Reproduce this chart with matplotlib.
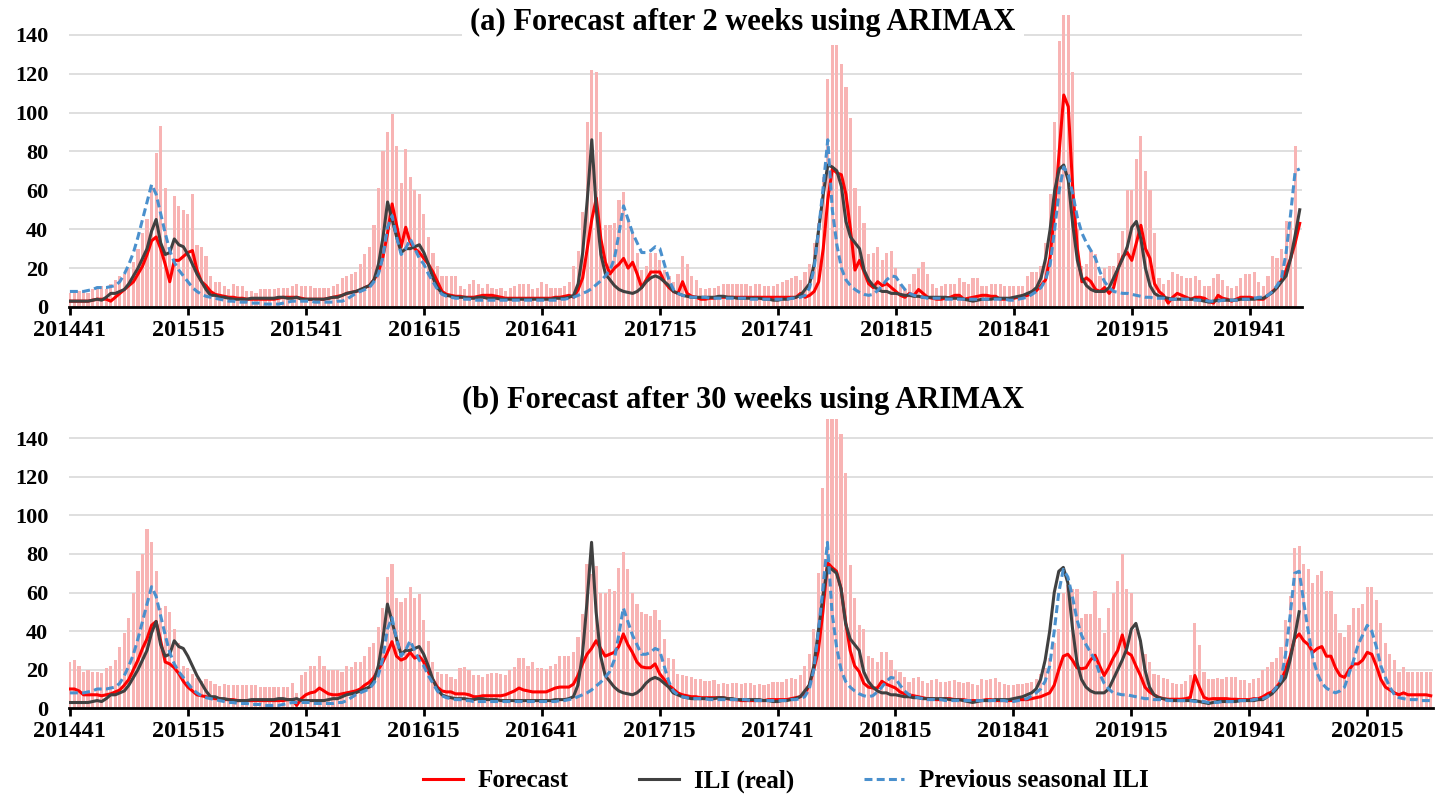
import matplotlib.pyplot as plt
import numpy as np

plt.rcParams['font.family'] = ['Liberation Serif', 'DejaVu Serif']
plt.rcParams['font.weight'] = 'bold'

# week labels every 26 weeks, starting at 201441
week_labels = ['201441', '201515', '201541', '201615', '201641', '201715',
               '201741', '201815', '201841', '201915', '201941', '202015']

# ILI (real), weekly from 201441 to 201952
ili_real = [
    3, 3, 3, 3, 3, 3.5, 4, 3.5, 5, 7, 7, 8, 9, 12, 16, 20, 25, 30, 39, 45,
    33, 27, 28, 35, 32, 31, 27, 22, 17, 13, 9, 6, 6, 5, 5, 4.5, 4, 4, 4, 4,
    4.5, 4.5, 4.5, 4.5, 4.5, 4.5, 5, 5, 4.5, 4.5, 5, 4, 4,
    4, 4, 4, 4, 4.5, 5, 5, 6, 7, 7.5, 8, 9, 10, 11, 14, 22, 36, 54, 45, 36,
    28, 30, 30, 31, 32, 28, 22, 15, 10, 7, 6, 5.5, 5, 5, 5, 4.5, 4.5, 5, 5, 4.5,
    4.5, 4.5, 4, 4, 4, 4, 4, 4, 4, 4, 4, 4, 4, 4, 4.5, 4.5, 4.5, 5,
    6, 12, 28, 55, 86, 50, 27, 17, 14, 11, 9, 8, 7.5, 7, 8, 10, 13, 15, 16, 15,
    13, 11, 8, 7, 6, 5.5, 5, 5, 5, 5, 5, 5, 5.5, 5.5, 5, 5, 4.5, 4.5, 4.5, 4.5,
    4.5, 4.5, 4, 4, 3.5, 3.5, 4, 4, 4.5, 5, 6, 9, 12, 22, 40, 58, 73,
    72, 70, 62, 44, 36, 33, 30, 19, 14, 11, 9, 8, 8, 7, 7, 6.5, 6, 6, 5.5, 5.5,
    5, 5, 5, 5, 5, 5, 4.5, 4.5, 4.5, 4, 3.5, 3, 3.5, 4, 4, 4, 4.5, 4.5, 4.5, 4.5,
    5, 5.5, 6, 7, 8, 10, 15, 25, 40, 60, 71, 73,
    65, 42, 24, 15, 11, 9, 8, 8, 8, 10, 15, 20, 25, 31, 41, 44, 35, 20, 11, 7,
    5.5, 5, 4.5, 4, 4, 4, 4, 4, 4, 3.5, 3, 2.5, 3, 3.5, 3.5, 3.5, 3.5, 3.5, 4, 4,
    4, 4, 4.5, 4.5, 6, 7.5, 10, 13, 16, 25, 37, 50,
]

# previous seasonal ILI, weekly from 201441 to 202029
prev_season = [
    8, 8, 8, 8, 8.5, 9, 10, 10, 10, 10.5, 11, 13, 17, 22, 28, 36, 45, 54, 63, 58,
    48, 38, 29, 23, 19, 16, 13, 10, 8, 6.5, 5.5, 5, 4.5, 4, 3.5, 3, 3, 2.5, 2.5, 2.5,
    2, 2, 2, 1.5, 1.5, 1.5, 1.5, 2, 2.5, 3, 3, 3, 3,
    3, 2.5, 2.5, 2.5, 2.5, 2.5, 3, 3, 4, 5.5, 7, 8, 9, 10, 13, 17, 26, 41, 47, 36,
    27, 30, 35, 30, 25, 22, 17, 13, 9, 6.5, 5.5, 5, 4.5, 4.5, 4, 4, 3.5, 3.5, 3.5, 3.5,
    3.5, 3.5, 3.5, 3.5, 3.5, 3.5, 3.5, 3.5, 3.5, 3.5, 3.5, 3.5, 3.5, 3.5, 3.5, 4, 4, 4.5,
    5, 6, 7, 8, 9.5, 11.5, 13.5, 16, 19, 25, 38, 52, 45, 38, 33, 28, 28, 29, 31, 30,
    22, 14, 9, 7, 6, 5.5, 5, 5, 5, 5, 4.5, 4.5, 4.5, 4.5, 4.5, 4.5, 4.5, 4.5, 4.5, 4,
    4, 4, 4, 4, 4, 4, 4, 4, 4.5, 4.5, 5, 6, 10, 20, 40, 62, 86,
    50, 32, 20, 14, 11, 9, 7.5, 6.5, 6, 6.5, 8.5, 11, 14, 16, 15.5, 12, 9, 7, 6, 5.5,
    5, 4.5, 4.5, 4.5, 4.5, 4, 4, 4, 4, 4, 4, 4, 4, 4, 4, 4, 4, 4, 4, 3.5,
    3.5, 4, 4.5, 5, 6.5, 8, 10, 14, 22, 40, 60, 72,
    68, 58, 46, 38, 33, 29, 25, 18, 13, 10, 8, 7.5, 7, 7, 6.5, 6, 5.5, 5, 5, 4.5,
    4.5, 4.5, 4, 4, 4, 4, 4, 4, 3.5, 3.5, 3.5, 3, 3, 3, 3.5, 3.5, 3.5, 3.5, 4, 4,
    4, 4.5, 5, 5, 6, 8, 11, 15, 28, 48, 70, 71, 55, 40, 26, 18, 13, 10.5, 9, 8,
    9, 11, 18, 25, 33, 38, 43, 40, 32, 22, 16, 11, 7, 5.5, 5, 4.5, 4.5, 4.5, 4, 4,
    4,
]

# (a) forecast after 2 weeks, 201441 to 201952
forecast_2w = [
    3, 3, 3, 3, 3, 3.5, 4, 4, 4, 3, 5, 7, 9, 11, 13, 17, 21, 27, 34, 36,
    30, 22, 13, 24, 24, 26, 28, 29, 19, 13, 11, 8, 6.5, 6, 5.5, 5, 5, 4.5, 4.5, 4,
    4, 4, 4, 4, 4, 4, 4.5, 5, 5, 5, 5, 4.5, 4,
    4, 4, 4, 4, 4.5, 5, 5.5, 6, 7, 7.5, 8, 8.5, 10, 11, 14, 18, 26, 38, 53, 42,
    31, 41, 33, 30, 28, 25, 22, 18, 13, 8, 6.5, 6, 5.5, 5.5, 5, 5, 5, 5.5, 6, 6,
    6, 5.5, 5, 4.5, 4.5, 4.5, 4.5, 4.5, 4.5, 4.5, 4.5, 4.5, 4.5, 4.5, 5, 5, 5.5, 6,
    5, 9, 15, 30, 45, 56, 35, 23, 17, 20, 22, 25, 20, 23, 17, 10, 14, 18, 18, 18,
    13, 10, 8, 7, 13, 7, 5.5, 5, 4, 4, 4.5, 4.5, 5, 5, 5, 5, 5, 5, 5, 5,
    5, 5, 5, 5, 5, 5, 5, 5, 5, 5, 7, 5, 6, 8, 13, 30, 55,
    71, 69, 68, 58, 40, 19, 24, 18, 12, 10, 13, 11, 12, 10, 8, 6, 5, 7, 6, 9,
    7, 5, 4.5, 4, 4, 4.5, 5, 6, 6, 4, 4.5, 5, 5.5, 6, 6, 5.5, 5.5, 4, 4, 4,
    4.5, 5, 5.5, 6, 7, 8.5, 11, 14, 26, 50, 80, 109,
    103, 60, 30, 13, 15, 13, 9, 8, 10, 7, 10, 20, 26, 28, 24, 33, 42, 30, 25, 12,
    8, 6, 2, 5, 7, 6, 5, 4, 5, 5, 4.5, 3, 2, 6, 4.5, 4, 3, 4, 5, 5,
    5, 4.5, 4, 4, 6, 8, 10, 14, 19, 25, 33, 43,
]

# (a) upper bars, 201441 to 201951
upper_2w = [
    7, 7, 8, 8, 7, 9, 10, 11, 9, 12, 14, 16, 17, 20, 23, 30, 38, 45, 62, 79,
    93, 61, 30, 57, 52, 50, 48, 58, 32, 31, 26, 16, 13, 13, 11, 9, 12, 11, 11, 8,
    8, 7, 9, 9, 9, 9, 10, 10, 10, 11, 12, 11, 11,
    11, 10, 10, 10, 10, 11, 12, 15, 16, 17, 18, 22, 27, 31, 42, 61, 80, 90, 99, 83,
    64, 81, 67, 60, 58, 48, 36, 28, 21, 16, 16, 16, 16, 11, 9, 12, 14, 12, 10, 12,
    10, 9, 10, 8, 10, 11, 12, 12, 12, 9, 10, 13, 12, 10, 10, 10, 11, 13,
    21, 29, 49, 95, 122, 121, 90, 42, 42, 43, 55, 59, 45, 38, 28, 19, 21, 28, 28, 24,
    19, 16, 13, 17, 26, 22, 16, 14, 10, 9.5, 10, 10, 11, 12, 12, 12, 12, 12, 12, 11,
    12, 12, 11, 11, 11, 12, 13, 14, 15, 16, 14, 18, 22, 33, 43, 67, 117,
    136, 136, 125, 113, 97, 61, 52, 43, 27, 28, 31, 24, 28, 29, 20, 12, 9, 12, 17, 20,
    23, 17, 12, 10, 11, 12, 12, 12, 15, 13, 12, 15, 15, 11, 11, 12, 12, 12, 11, 11,
    11, 11, 11, 16, 18, 18, 21, 33, 58, 95, 137, 150,
    150, 121, 40, 21, 22, 29, 27, 16, 20, 21, 21, 28, 39, 60, 60, 76, 88, 70, 60, 38,
    15, 12, 14, 18, 17, 16, 15, 15, 16, 14, 11, 11, 15, 17, 14, 11, 10, 11, 15, 17,
    17, 18, 13, 11, 16, 26, 25, 30, 44, 44, 83,
]

# (b) forecast after 30 weeks, 201441 to 202029
forecast_30w = [
    10, 10, 9, 7, 7, 7, 7, 6.5, 7, 7.5, 8.5, 9.5, 12, 15, 20, 25, 31, 36, 43, 45,
    35, 24, 23, 21, 18, 14, 11, 9, 7, 6.5, 6, 5.5, 5, 5, 4.5, 4.5, 4.5, 4, 4, 4,
    4, 4, 4, 4, 4, 4, 4, 4, 4.5, 4.5, 1.5, 5, 7,
    8, 8.5, 10.5, 9, 7.5, 7, 7, 7.5, 8, 8.5, 9, 10, 12, 13.5, 16, 20, 24, 29, 34.5, 27,
    25, 26, 29, 26, 27, 24, 19, 15, 11, 9, 8.5, 8.5, 7.5, 7.5, 7.5, 7, 6, 6, 6.5, 6.5,
    6.5, 6.5, 6.5, 7, 8, 9, 10.5, 9.5, 9, 8.5, 8.5, 8.5, 8.5, 9.5, 10.5, 11, 11, 11,
    12.5, 17, 23, 28, 31, 35, 31, 27, 28, 29, 32, 38.5, 33, 29, 24, 21.5, 21, 21, 23, 18,
    15, 12, 10, 8, 7, 6.5, 6, 6, 5.5, 5.5, 5.5, 5.5, 5.5, 5.5, 5, 4.5, 4.5, 4, 4, 4,
    4, 4, 4, 4.5, 4.5, 4.5, 4.5, 4.5, 5, 5.5, 6, 7.5, 12, 20, 30, 50, 75.5,
    73, 71, 62, 45, 30, 22, 19, 13, 11, 10.5, 10.5, 14, 12.5, 11.5, 10.5, 8.5, 7.5, 7, 6.5, 6,
    5.5, 5, 5, 4.5, 4.5, 5, 5, 4.5, 4.5, 4.5, 4, 4, 4, 4, 4.5, 4.5, 4, 4, 4, 4,
    4, 4.5, 4.5, 4.5, 5, 5.5, 6, 7, 8, 12, 20, 27,
    28, 25, 21, 20.5, 21, 25, 27.5, 22, 17, 21, 26, 30, 38, 29, 27.5, 22, 17, 11, 8.5, 7,
    5.7, 5, 4.7, 4.7, 4.7, 4.7, 5, 5.7, 17, 11, 5.7, 4.7, 5, 5, 5, 5, 4.7, 4.7, 4.5, 4.5,
    4.5, 5, 5, 6, 7.5, 8.5, 11, 14, 20, 27, 36, 38.5, 35, 33, 29, 31, 32, 27, 27, 21,
    17, 16, 20, 23, 23, 25, 29, 28, 22, 15, 11, 9.5, 8, 7, 8, 7, 7, 7, 7, 7,
    6.5,
]

# (b) upper bars, 201441 to 202029
upper_30w = [
    24, 25, 22, 19, 20, 19, 19, 18.5, 21, 22, 25, 32, 39, 47, 60, 71, 80, 93, 86, 71,
    52, 53, 50, 41, 34, 22, 21, 18, 15.5, 14, 15, 14, 12.6, 11.6, 12.4, 12, 12, 12, 12, 12,
    12, 12, 11, 11, 11, 11, 11, 11, 11, 13, 8, 17, 19,
    22, 22, 27, 22, 20, 20, 20, 19, 22, 21.5, 24, 24, 27, 32, 34, 42, 52, 68, 75, 57,
    55, 57, 63, 57, 59, 46, 35, 24, 19, 18, 18, 16, 15, 21, 21.6, 20, 17, 17, 16, 18,
    18.5, 18.5, 17.6, 17, 20, 21.6, 26, 26, 22, 24, 20.7, 20.7, 20.4, 22, 23, 27, 27, 27,
    29, 37, 49, 75, 69.6, 73.7, 60, 60, 62, 61, 72.5, 81, 72, 60, 54, 50, 49, 48, 51, 45.8,
    36, 26, 25.4, 18, 17, 16.8, 16, 15.4, 15.4, 14.3, 14.3, 14.5, 12.6, 13.3, 12.6, 13.3, 13.3, 12.6, 13, 13,
    12, 12.6, 12, 12.6, 13.8, 13.8, 13.8, 15, 15.5, 15, 17, 22, 28, 41, 70, 114, 150,
    150, 150, 142, 122, 74, 57, 43, 41, 27, 26, 24, 29, 29, 25, 20, 19, 16.4, 13.8, 15.5, 16.4,
    14.3, 13.3, 14.7, 15, 13.8, 13.8, 14.3, 14.7, 13.8, 13, 13.8, 12.6, 12, 15, 14.7, 15, 15.5, 13.8, 12.6, 12,
    12, 12.6, 12.6, 13.3, 13.8, 15, 18, 20.7, 26, 34, 41, 60,
    64, 62, 62, 47, 49, 49, 61, 47, 39, 52, 60, 66, 80, 62, 60, 41, 34, 28, 24, 18,
    17, 15.5, 15, 13, 12.6, 12.6, 14, 17, 44, 33, 19, 15, 15, 15.5, 15, 16, 16, 16, 14.7, 14.7,
    13, 15, 15.5, 20, 21.6, 24, 26, 32, 46, 58, 83, 84, 75, 72, 65, 69, 71, 61, 61, 49,
    39, 37, 43, 52, 52, 54, 63, 63, 56, 44, 34, 28, 25, 19, 21.6, 19, 18.7, 18.7, 19, 18.7,
    18.7,
]

W, H = 1442, 795
fig = plt.figure(figsize=(W / 100, H / 100), dpi=100)

ax_a = fig.add_axes([69 / W, 1 - 307 / H, 1233 / W, 291.7 / H])
ax_b = fig.add_axes([69 / W, 1 - 708.3 / H, 1364 / W, 289.5 / H])


def draw_panel(ax, forecast, upper, n_weeks):
    ax.bar(np.arange(len(upper)), upper, width=0.7, color='#f8b4b4', zorder=1)
    ax.plot(np.arange(len(forecast)), forecast, color='#ff0000', lw=2.2,
            label='Forecast', zorder=3)
    ax.plot(np.arange(len(ili_real)), ili_real, color='#404040', lw=2.2,
            label='ILI (real)', zorder=4)
    prev = prev_season[:n_weeks]
    ax.plot(np.arange(len(prev)), prev, color='#4a90cd', lw=2.2,
            ls=(0, (2.6, 1.4)), label='Previous seasonal ILI', zorder=5)

    ax.set_ylim(0, 150)
    ax.set_xlim(-0.2, n_weeks - 0.5)
    ax.set_yticks(range(0, 141, 20))
    ax.grid(axis='y', color='#d9d9d9', lw=1.2, zorder=0)
    ax.set_axisbelow(True)

    ticks = list(range(0, n_weeks, 26))
    ax.set_xticks(ticks)
    ax.set_xticklabels(week_labels[:len(ticks)])

    for side in ['top', 'right', 'left']:
        ax.spines[side].set_visible(False)
    ax.spines['bottom'].set_linewidth(2)
    ax.spines['bottom'].set_zorder(6)
    ax.tick_params(axis='x', length=6, width=2, pad=3, labelsize=17.5)
    ax.tick_params(axis='y', length=0, pad=15, labelsize=16)
    for lab in ax.get_xticklabels() + ax.get_yticklabels():
        lab.set_fontweight('bold')


draw_panel(ax_a, forecast_2w, upper_2w, 272)
draw_panel(ax_b, forecast_30w, upper_30w, 301)

fig.text(743 / W, 1 - 22 / H, '(a) Forecast after 2 weeks using ARIMAX',
         ha='center', va='center', fontsize=22, fontweight='bold',
         bbox=dict(facecolor='white', edgecolor='none', pad=6))
fig.text(743 / W, 1 - 400 / H, '(b) Forecast after 30 weeks using ARIMAX',
         ha='center', va='center', fontsize=22, fontweight='bold')

handles, labels = ax_b.get_legend_handles_labels()
fig.legend(handles, labels, loc='center', bbox_to_anchor=(786 / W, 1 - 781 / H),
           ncol=3, frameon=False, prop={'size': 18, 'weight': 'bold'},
           handlelength=1.6, columnspacing=2.8, handletextpad=0.6)

fig.savefig('out.png', dpi=100)
